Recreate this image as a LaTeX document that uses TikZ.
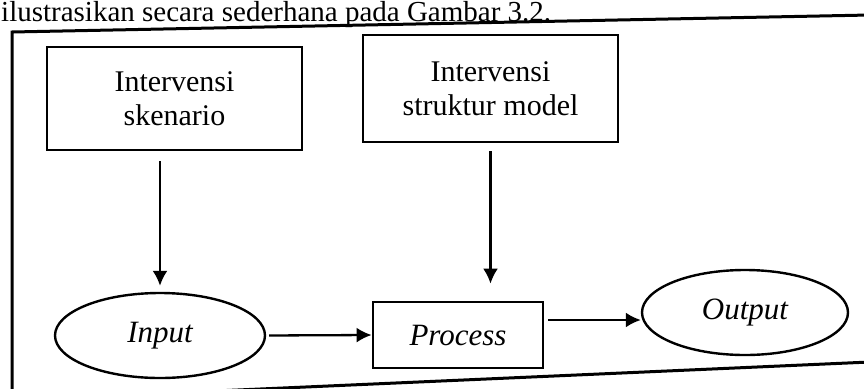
\documentclass[tikz,border=0pt]{standalone}
\usepackage{fontspec}
\setmainfont{Liberation Serif}
\usetikzlibrary{arrows.meta,shapes.geometric,calc}
\begin{document}
\begin{tikzpicture}[x=1pt,y=-1pt,
  txt/.style={font=\fontsize{30}{34}\selectfont},
  itx/.style={font=\fontsize{31}{34}\selectfont\itshape},
  box/.style={draw,line width=2.8pt,minimum width=255pt,inner sep=0pt,align=center,txt},
  pbox/.style={draw,line width=2.8pt,minimum width=170pt,minimum height=66pt,inner sep=0pt,itx},
  oval/.style={draw,ellipse,line width=2.4pt,minimum height=85pt,inner sep=0pt,itx},
  arr/.style={line width=2.3pt,-{Latex[length=15pt,width=15pt]}},
  frame/.style={line width=3pt}]
\useasboundingbox (0,0) rectangle (864,388);
\clip (0,0) rectangle (864,388);
\node[anchor=base west,inner sep=0pt,font=\fontsize{29}{29}\selectfont] (cap) at (1,21) {ilustrasikan secara sederhana pada Gambar 3.2.};
\draw[frame] (870,15) -- (12,32) -- (12,400) -- (870,362);
\node[box,minimum height=103pt] (b1) at (174.5,98.5) {Intervensi\\skenario};
\node[box,minimum height=107pt] (b2) at (490.5,88.5) {Intervensi\\struktur model};
\node[oval,minimum width=210pt] (inp) at (160,335.5) {Input};
\node[pbox] (proc) at (458,335) {Process};
\node[oval,minimum width=206pt] (out) at (745,312.5) {Output};
\coordinate (m) at (595,320);
\draw[arr,shorten <=10pt,shorten >=6pt] (b1.south -| inp.north) -- (inp.north);
\draw[arr,shorten <=8pt,shorten >=17pt] (b2.south) -- (b2.south |- proc.north);
\draw[arr,shorten <=3pt] (inp.east) -- (proc.west);
\draw[arr,shorten <=4pt] (proc.east |- m) -- (out.west |- m);
\end{tikzpicture}
\end{document}
